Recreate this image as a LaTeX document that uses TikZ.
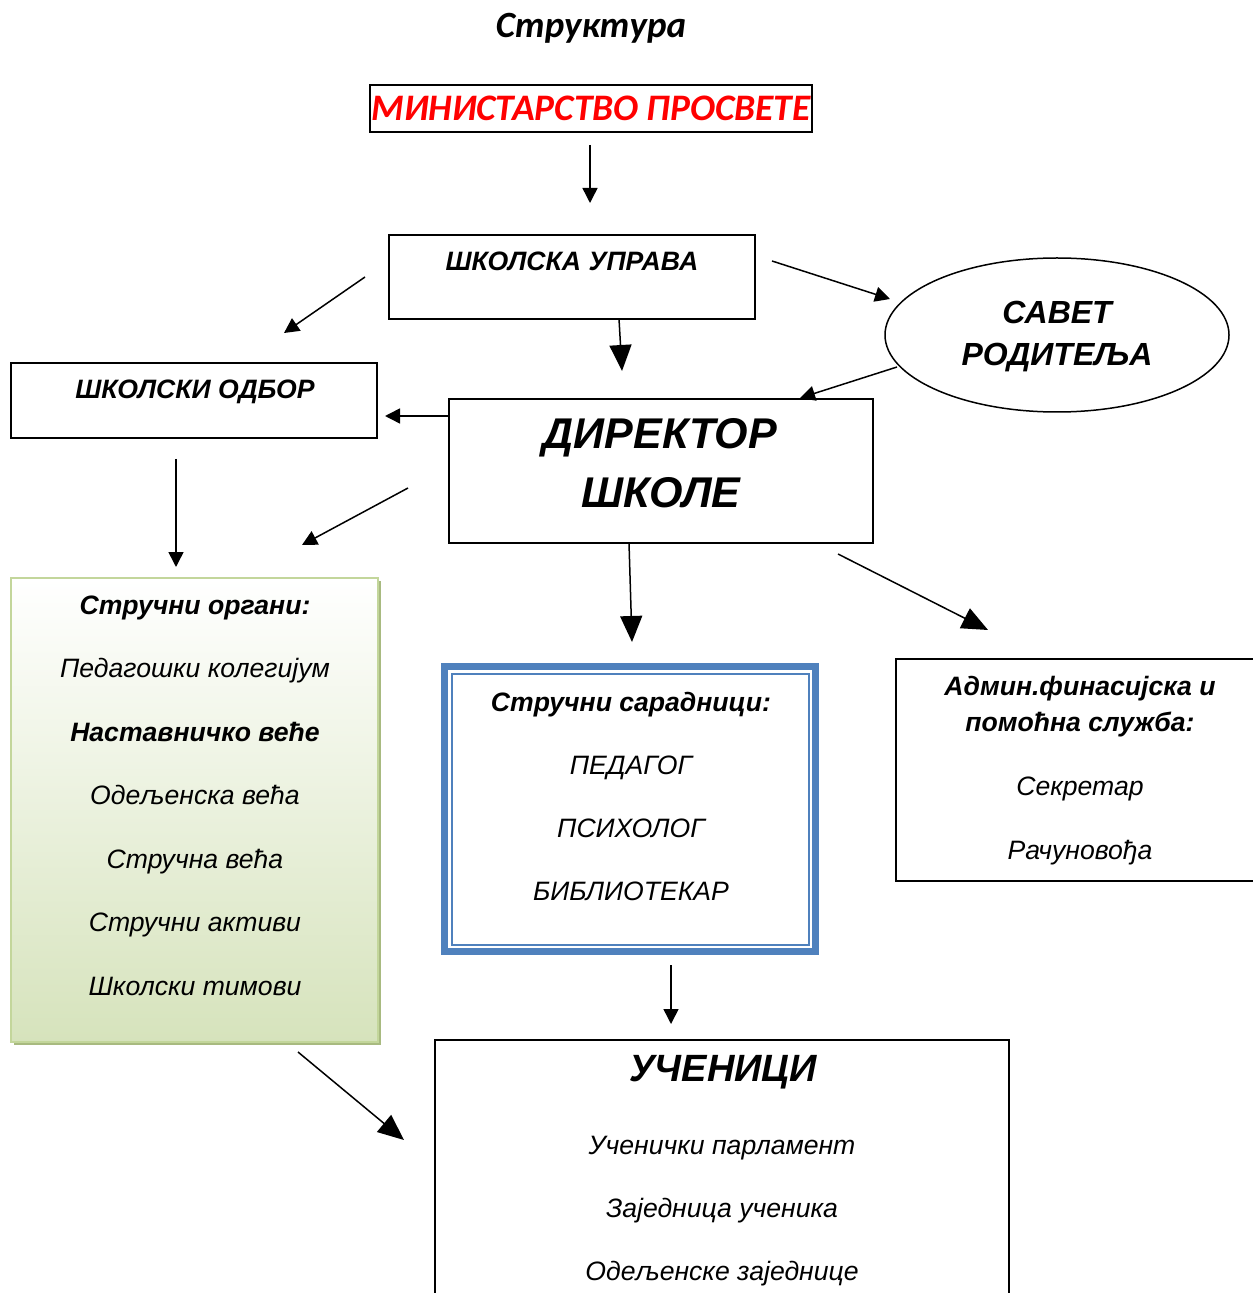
\documentclass[tikz,border=0pt]{standalone}
\usepackage{fontspec}
\setmainfont[Language=Serbian]{Liberation Sans}
\newfontfamily\calibrifont[Language=Serbian]{Carlito}
\usetikzlibrary{arrows.meta,shapes.geometric,shadows}

\definecolor{ministryred}{RGB}{255,0,0}
\definecolor{boxblue}{RGB}{79,129,189}
\definecolor{palegreen}{RGB}{214,227,188}
\definecolor{edgegreen}{RGB}{195,214,155}
\definecolor{shadowgreen}{RGB}{168,186,128}

\tikzset{
    box/.style={draw, line width=1pt, inner sep=0pt, outer sep=0pt},
    txt/.style={inner sep=0pt, text height=9.5pt, text depth=0pt, font=\itshape\fontsize{13.3}{16}\selectfont},
    btxt/.style={txt, font=\bfseries\itshape\fontsize{13.3}{16}\selectfont},
    bigtxt/.style={txt, text height={0.72*#1pt}, font=\bfseries\itshape\fontsize{#1}{#1}\selectfont},
    arrowsmall/.style={line width=0.75pt, -{Triangle[width=7.5pt,length=7.5pt]}},
    arrowbig/.style={line width=0.75pt, -{Triangle[width=11pt,length=13pt]}},
}

\begin{document}
\begin{tikzpicture}[x=0.5pt, y=-0.5pt]
    \useasboundingbox (0,0) rectangle (1252,1293);

    \node[inner sep=0pt, font=\calibrifont\bfseries\itshape\fontsize{18.5}{22}\selectfont] (title) at (591,28) {Структура};

    \node[box, minimum width=221pt, minimum height=23.5pt, text=ministryred,
        font=\calibrifont\bfseries\itshape\fontsize{18.7}{22}\selectfont] (ministry) at (591,108.5) {МИНИСТАРСТВО ПРОСВЕТЕ};

    \node[box, minimum width=183pt, minimum height=42pt] (uprava) at (572,277) {};
    \node[btxt] (upravatext) at (572,261) {ШКОЛСКА УПРАВА};

    \node[box, minimum width=183pt, minimum height=37.5pt] (odbor) at (194,400.5) {};
    \node[btxt] (odbortext) at (195,389) {ШКОЛСКИ ОДБОР};

    \node[draw, ellipse, line width=0.75pt, inner sep=0pt, minimum width=172pt, minimum height=77pt] (savet) at (1057,335) {};
    \node[bigtxt=16] (savet1) at (1057,311.5) {САВЕТ};
    \node[bigtxt=16] (savet2) at (1057,354) {РОДИТЕЉА};

    \node[box, minimum width=212pt, minimum height=72pt] (director) at (661,471) {};
    \node[bigtxt=21.5] (director1) at (660,433) {ДИРЕКТОР};
    \node[bigtxt=21.5] (director2) at (661,492) {ШКОЛЕ};

    \node[inner sep=0pt, outer sep=0pt, minimum width=183.5pt, minimum height=232pt,
        top color=white, bottom color=palegreen, draw=edgegreen, line width=1pt,
        drop shadow={shadow xshift=1.5pt, shadow yshift=-1.5pt, fill=shadowgreen, opacity=1}] (organs) at (194.5,810) {};
    \node[btxt] (organs0) at (195,605) {Стручни органи:};
    \foreach \y/\s/\t [count=\i] in {668/txt/Педагошки колегијум, 732/btxt/Наставничко веће,
            795/txt/Одељенска већа, 859/txt/Стручна већа, 922/txt/Стручни активи, 986/txt/Школски тимови} {
        \node[\s] (organs\i) at (195,\y) {\t};
    }

    \node[draw=boxblue, line width=3.5pt, inner sep=0pt, outer sep=0pt, minimum width=185.5pt, minimum height=142.5pt] (staff) at (630,809) {};
    \draw[boxblue, line width=1pt] (451.5,673.5) rectangle (808.5,944.5);
    \node[btxt] (staff0) at (631,702) {Стручни сарадници:};
    \foreach \y/\t [count=\i] in {765/ПЕДАГОГ, 828/ПСИХОЛОГ, 891/БИБЛИОТЕКАР} {
        \node[txt] (staff\i) at (631,\y) {\t};
    }

    \node[box, minimum width=184pt, minimum height=111pt] (admin) at (1080,770) {};
    \node[btxt] (admin1) at (1080,686) {Админ.финасијска и};
    \node[btxt] (admin2) at (1080,722) {помоћна служба:};
    \node[txt] (admin3) at (1080,786) {Секретар};
    \node[txt] (admin4) at (1080,850) {Рачуновођа};

    \node[box, minimum width=287pt, minimum height=135pt] (pupils) at (722,1175) {};
    \node[bigtxt=19] (pupils0) at (723,1068) {УЧЕНИЦИ};
    \foreach \y/\t [count=\i] in {1145/Ученички парламент, 1208/Заједница ученика, 1271/Одељенске заједнице} {
        \node[txt] (pupils\i) at (722,\y) {\t};
    }

    \coordinate (m1) at (590,145);  \coordinate (m2) at (590,203);
    \coordinate (u1) at (365,277);  \coordinate (u2) at (284,333);
    \coordinate (u3) at (619,319);  \coordinate (u4) at (622,371);
    \coordinate (u5) at (772,261);  \coordinate (u6) at (890,299);
    \coordinate (s1) at (897,367);  \coordinate (s2) at (800,398);
    \coordinate (d1) at (448,416);  \coordinate (d2) at (385,416);
    \coordinate (o1) at (176,459);  \coordinate (o2) at (176,567);
    \coordinate (d3) at (408,488);  \coordinate (d4) at (302,545);
    \coordinate (d5) at (629,543);  \coordinate (d6) at (632,642);
    \coordinate (d7) at (838,554);  \coordinate (d8) at (988,630);
    \coordinate (b1) at (671,965);  \coordinate (b2) at (671,1024);
    \coordinate (g1) at (298,1052); \coordinate (g2) at (404,1140);

    \draw[arrowsmall] (m1) -- (m2);
    \draw[arrowsmall] (u1) -- (u2);
    \draw[arrowbig] (u3) -- (u4);
    \draw[arrowsmall] (u5) -- (u6);
    \draw[arrowsmall] (s1) -- (s2);
    \draw[arrowsmall] (d1) -- (d2);
    \draw[arrowsmall] (o1) -- (o2);
    \draw[arrowsmall] (d3) -- (d4);
    \draw[arrowbig] (d5) -- (d6);
    \draw[arrowbig] (d7) -- (d8);
    \draw[arrowsmall] (b1) -- (b2);
    \draw[arrowbig] (g1) -- (g2);
\end{tikzpicture}
\end{document}
